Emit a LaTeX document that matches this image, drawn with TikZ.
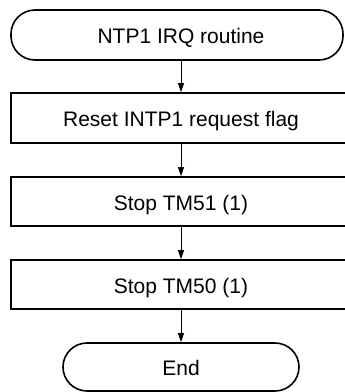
\documentclass[tikz,border=0pt]{standalone}
\usepackage{fontspec}
\setmainfont{Liberation Sans}
\usetikzlibrary{arrows.meta}
\begin{document}
\begin{tikzpicture}[x=1pt,y=1pt,
  boxtext/.style={inner sep=0pt, text height=17pt, text depth=0pt, font=\fontsize{21}{25}\selectfont},
  procbox/.style={draw, line width=1.6pt, rectangle, minimum width=340pt, minimum height=50pt, boxtext},
  termbox/.style={draw, line width=1.6pt, rectangle, rounded corners=24pt, minimum height=50pt, boxtext},
  flow/.style={line width=0.8pt, -{Triangle[length=9pt,width=6pt]}}]
\clip (0,0) rectangle (345,392);
\useasboundingbox (0,0) rectangle (345,392);
\node[termbox, minimum width=332pt] (start) at (177,357) {\hspace*{8pt}NTP1 IRQ routine};
\node[procbox] (b1) at (181,274) {Reset INTP1 request flag};
\node[procbox, minimum height=49pt] (b2) at (181,190.5) {Stop TM51 (1)};
\node[procbox, minimum height=49pt] (b3) at (181,107.5) {Stop TM50 (1)};
\node[termbox, minimum width=236pt, minimum height=48pt] (end) at (181,25) {End};
\draw[flow] (start.south -| b1.north) -- (b1.north);
\draw[flow] (b1.south) -- (b2.north);
\draw[flow] (b2.south) -- (b3.north);
\draw[flow] (b3.south) -- (end.north);
\end{tikzpicture}
\end{document}
